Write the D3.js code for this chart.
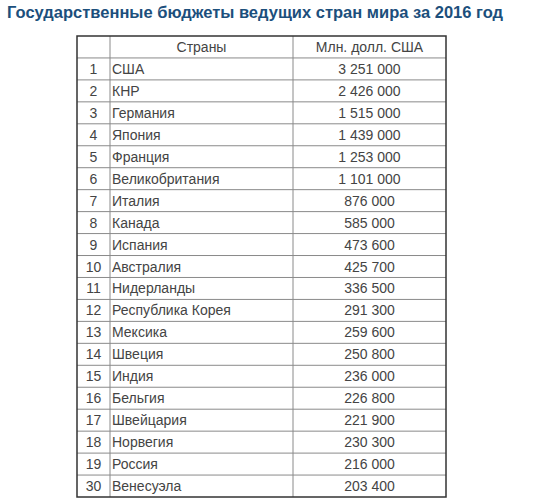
<!DOCTYPE html>
<html><head><meta charset="utf-8">
<script src="https://cdn.jsdelivr.net/npm/d3@7"></script>
<style>body{margin:0;background:#fff}</style>
</head><body>
<svg id="t" width="541" height="504"></svg>
<script>
const title = "Государственные бюджеты ведущих стран мира за 2016 год";
const headers = ["", "Страны", "Млн. долл. США"];
const ranks = [1,2,3,4,5,6,7,8,9,10,11,12,13,14,15,16,17,18,19,30];
const countries = ["США","КНР","Германия","Япония","Франция","Великобритания","Италия","Канада","Испания","Австралия","Нидерланды","Республика Корея","Мексика","Швеция","Индия","Бельгия","Швейцария","Норвегия","Россия","Венесуэла"];
const budgets = [3251000,2426000,1515000,1439000,1253000,1101000,876000,585000,473600,425700,336500,291300,259600,250800,236000,226800,221900,230300,216000,203400];

const svg = d3.select("#t");
const font = "Liberation Sans, Arial, sans-serif";
svg.append("text").attr("x", 7).attr("y", 18).attr("font-family", font)
  .attr("font-size", 16.5).attr("font-weight", "bold").attr("fill", "#1c4f7c").text(title);

const tLeft = 77, tRight = 446, tTop = 36, tBottom = 497;
const cols = [77, 110, 293, 446];
const y = d3.scaleBand().domain(d3.range(ranks.length + 1)).range([tTop, tBottom]);
const fmt = v => d3.format(",")(v).replace(/,/g, " ");
const rows = [headers].concat(ranks.map((r, i) => [r, countries[i], fmt(budgets[i])]));

const g = svg.append("g");
y.domain().slice(1).forEach(i => g.append("line").attr("x1", tLeft).attr("x2", tRight)
  .attr("y1", y(i)).attr("y2", y(i)).attr("stroke", "#8a8a8a"));
cols.slice(1, 3).forEach(x => g.append("line").attr("x1", x).attr("x2", x)
  .attr("y1", tTop).attr("y2", tBottom).attr("stroke", "#8a8a8a"));
g.append("rect").attr("x", tLeft).attr("y", tTop).attr("width", tRight - tLeft)
  .attr("height", tBottom - tTop).attr("fill", "none").attr("stroke", "#333").attr("stroke-width", 1.5);

const rowG = g.selectAll("g.row").data(rows).join("g")
  .attr("transform", (d, i) => `translate(0,${y(i) + y.bandwidth() / 2 + 5})`);
rowG.append("text").attr("x", (cols[0] + cols[1]) / 2).attr("text-anchor", "middle").text(d => d[0]);
rowG.append("text").attr("x", (d, i) => i === 0 ? (cols[1] + cols[2]) / 2 : cols[1] + 2)
  .attr("text-anchor", (d, i) => i === 0 ? "middle" : "start").text(d => d[1]);
rowG.append("text").attr("x", (cols[2] + cols[3]) / 2).attr("text-anchor", "middle").text(d => d[2]);
rowG.selectAll("text").attr("font-family", font).attr("font-size", 14).attr("fill", "#444");
</script>
</body></html>
